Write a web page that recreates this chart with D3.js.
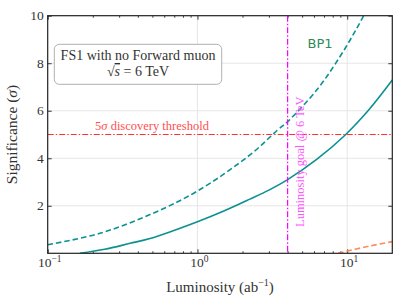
<!DOCTYPE html>
<html>
<head>
<meta charset="utf-8">
<script src="https://cdn.jsdelivr.net/npm/d3@7"></script>
<style>
html,body{margin:0;padding:0;background:#fff;}
svg{display:block;}
</style>
</head>
<body>
<svg id="chart" width="407" height="304"></svg>
<script>
// ---- data ----
const lumiSolid = [0.164, 0.24, 0.355, 0.482, 1.0, 1.5, 2.24, 3.0, 4.0, 6.25, 9.7, 14, 20];
const sigSolid  = [0.0, 0.17, 0.42, 0.62, 1.33, 1.78, 2.28, 2.66, 3.1, 3.95, 4.98, 6.05, 7.29];
const lumiDashed = [0.1, 0.223, 0.482, 1.0, 2.24, 3.43, 4.0, 6.25, 8.93, 12.5, 20];
const sigDashed  = [0.36, 0.84, 1.63, 2.62, 4.14, 5.19, 5.54, 6.87, 8.27, 9.85, 12.4];
const lumiOrange = [8.7, 14.2, 20];
const sigOrange  = [0.0, 0.31, 0.49];
const threshold = 5;
const lumiGoal = 4;
const xDomain = [0.1, 20];
const yDomain = [0, 10];
const xMajorTicks = [0.1, 1, 10];
const xTickExponents = ["\u22121", "0", "1"];
const xMinorTicks = [0.2,0.3,0.4,0.5,0.6,0.7,0.8,0.9,2,3,4,5,6,7,8,9];
const yTicks = [2, 4, 6, 8, 10];
const yTickLabels = ["2", "4", "6", "8", "10"];

// ---- layout ----
const svg = d3.select("#chart");
const L = 47.7, R = 392.3, T = 15.7, B = 253.3;
const x = d3.scaleLog().domain(xDomain).range([L, R]);
const y = d3.scaleLinear().domain(yDomain).range([B, T]);
const serif = "'Liberation Serif', 'DejaVu Serif', serif";

svg.append("defs").append("clipPath").attr("id","clip")
  .append("rect").attr("x",L).attr("y",T).attr("width",R-L).attr("height",B-T);

// grid
const grid = svg.append("g").attr("stroke","#e3e3e3").attr("stroke-width",0.9);
[1,10].forEach(v=>grid.append("line").attr("x1",x(v)).attr("x2",x(v)).attr("y1",T).attr("y2",B));
[2,4,6,8].forEach(v=>grid.append("line").attr("x1",L).attr("x2",R).attr("y1",y(v)).attr("y2",y(v)));

// axes (ticks inside)
svg.append("g").attr("transform",`translate(0,${B})`)
  .call(d3.axisBottom(x).tickValues(xMajorTicks).tickSize(-4).tickFormat(""));
svg.append("g").attr("transform",`translate(0,${B})`)
  .call(d3.axisBottom(x).tickValues(xMinorTicks).tickSize(-2).tickFormat(""));
svg.append("g").attr("transform",`translate(0,${T})`)
  .call(d3.axisTop(x).tickValues(xMajorTicks).tickSize(-4).tickFormat(""));
svg.append("g").attr("transform",`translate(0,${T})`)
  .call(d3.axisTop(x).tickValues(xMinorTicks).tickSize(-2).tickFormat(""));
svg.append("g").attr("transform",`translate(${L},0)`)
  .call(d3.axisLeft(y).tickValues(yTicks).tickSize(-4).tickFormat(""));
svg.append("g").attr("transform",`translate(${R},0)`)
  .call(d3.axisRight(y).tickValues(yTicks).tickSize(-4).tickFormat(""));
svg.selectAll(".domain").remove();
svg.selectAll(".tick line").attr("stroke","#222").attr("stroke-width",0.9);

// tick labels
xMajorTicks.forEach((v,i)=>{
  const t = svg.append("text").attr("x",x(v)+2).attr("y",B+13.5)
    .attr("text-anchor","middle").attr("font-family",serif).attr("font-size",13.5).attr("fill","#333");
  t.append("tspan").text("10");
  t.append("tspan").attr("dy",-5).attr("font-size",9.5).text(xTickExponents[i]);
});
yTicks.forEach((v,i)=>{
  svg.append("text").attr("x",L-4).attr("y",y(v)+4.5).attr("text-anchor","end")
    .attr("font-family",serif).attr("font-size",13.5).attr("fill","#333").text(yTickLabels[i]);
});

// axis labels
const xl = svg.append("text").attr("x",(L+R)/2).attr("y",291.5).attr("text-anchor","middle")
  .attr("font-family",serif).attr("font-size",15).attr("fill","#333");
xl.append("tspan").text("Luminosity (ab");
xl.append("tspan").attr("dy",-5.5).attr("font-size",10).text("\u22121");
xl.append("tspan").attr("dy",5.5).text(")");
const yl = svg.append("text").attr("transform",`translate(16.5,${(T+B)/2}) rotate(-90)`)
  .attr("text-anchor","middle").attr("font-family",serif).attr("font-size",15.5).attr("fill","#333");
yl.append("tspan").text("Significance (");
yl.append("tspan").attr("font-style","italic").text("\u03c3");
yl.append("tspan").text(")");

// curves
const plot = svg.append("g").attr("clip-path","url(#clip)");
const line = d3.line().x(d=>x(d[0])).y(d=>y(d[1])).curve(d3.curveCatmullRom.alpha(0.5));
const teal = "#0c9191";
plot.append("path").datum(d3.zip(lumiSolid, sigSolid)).attr("d",line)
  .attr("fill","none").attr("stroke",teal).attr("stroke-width",1.6);
plot.append("path").datum(d3.zip(lumiDashed, sigDashed)).attr("d",line)
  .attr("fill","none").attr("stroke",teal).attr("stroke-width",1.6).attr("stroke-dasharray","5.5,3");
plot.append("path").datum(d3.zip(lumiOrange, sigOrange)).attr("d",line)
  .attr("fill","none").attr("stroke","#ff8a5c").attr("stroke-width",1.6).attr("stroke-dasharray","5.5,3");

// threshold line
plot.append("line").attr("x1",L).attr("x2",R).attr("y1",y(threshold)).attr("y2",y(threshold))
  .attr("stroke","#ff3030").attr("stroke-width",1.2).attr("stroke-dasharray","6,2,1.5,2");
// luminosity goal line
plot.append("line").attr("x1",x(lumiGoal)).attr("x2",x(lumiGoal)).attr("y1",T).attr("y2",B)
  .attr("stroke","#ff00ff").attr("stroke-width",1.2).attr("stroke-dasharray","6,2,1.5,2");

// frame
svg.append("rect").attr("x",L).attr("y",T).attr("width",R-L).attr("height",B-T)
  .attr("fill","none").attr("stroke","#222").attr("stroke-width",1.2);

// annotation texts
const thr = svg.append("text").attr("x",152).attr("y",y(threshold)-4.5).attr("text-anchor","middle")
  .attr("font-family",serif).attr("font-size",12.5).attr("fill","#ff5050");
thr.append("tspan").text("5");
thr.append("tspan").attr("font-style","italic").text("\u03c3");
thr.append("tspan").text(" discovery threshold");

svg.append("text").attr("transform",`translate(${x(lumiGoal)+16.5},${227}) rotate(-90)`)
  .attr("text-anchor","start").attr("font-family",serif).attr("font-size",12.5).attr("fill","#ff55ff")
  .text("Luminosity goal @ 6 TeV");

svg.append("text").attr("x",320).attr("y",48.3).attr("text-anchor","middle")
  .attr("font-family","'DejaVu Sans', sans-serif").attr("font-size",13).attr("fill","#2e8b57").text("BP1");

// info box
svg.append("rect").attr("x",54.3).attr("y",44.3).attr("width",167.4).attr("height",40)
  .attr("rx",5).attr("fill","#fff").attr("stroke","#b0b0b0").attr("stroke-width",1);
svg.append("text").attr("x",138).attr("y",59.5).attr("text-anchor","middle")
  .attr("font-family",serif).attr("font-size",14).attr("fill","#333").text("FS1 with no Forward muon");
const rs = svg.append("text").attr("x",138).attr("y",76).attr("text-anchor","middle")
  .attr("font-family",serif).attr("font-size",14).attr("fill","#333");
rs.append("tspan").text("\u221a");
rs.append("tspan").attr("font-style","italic").attr("text-decoration","overline").text("s");
rs.append("tspan").text(" = 6 TeV");
</script>
</body>
</html>
